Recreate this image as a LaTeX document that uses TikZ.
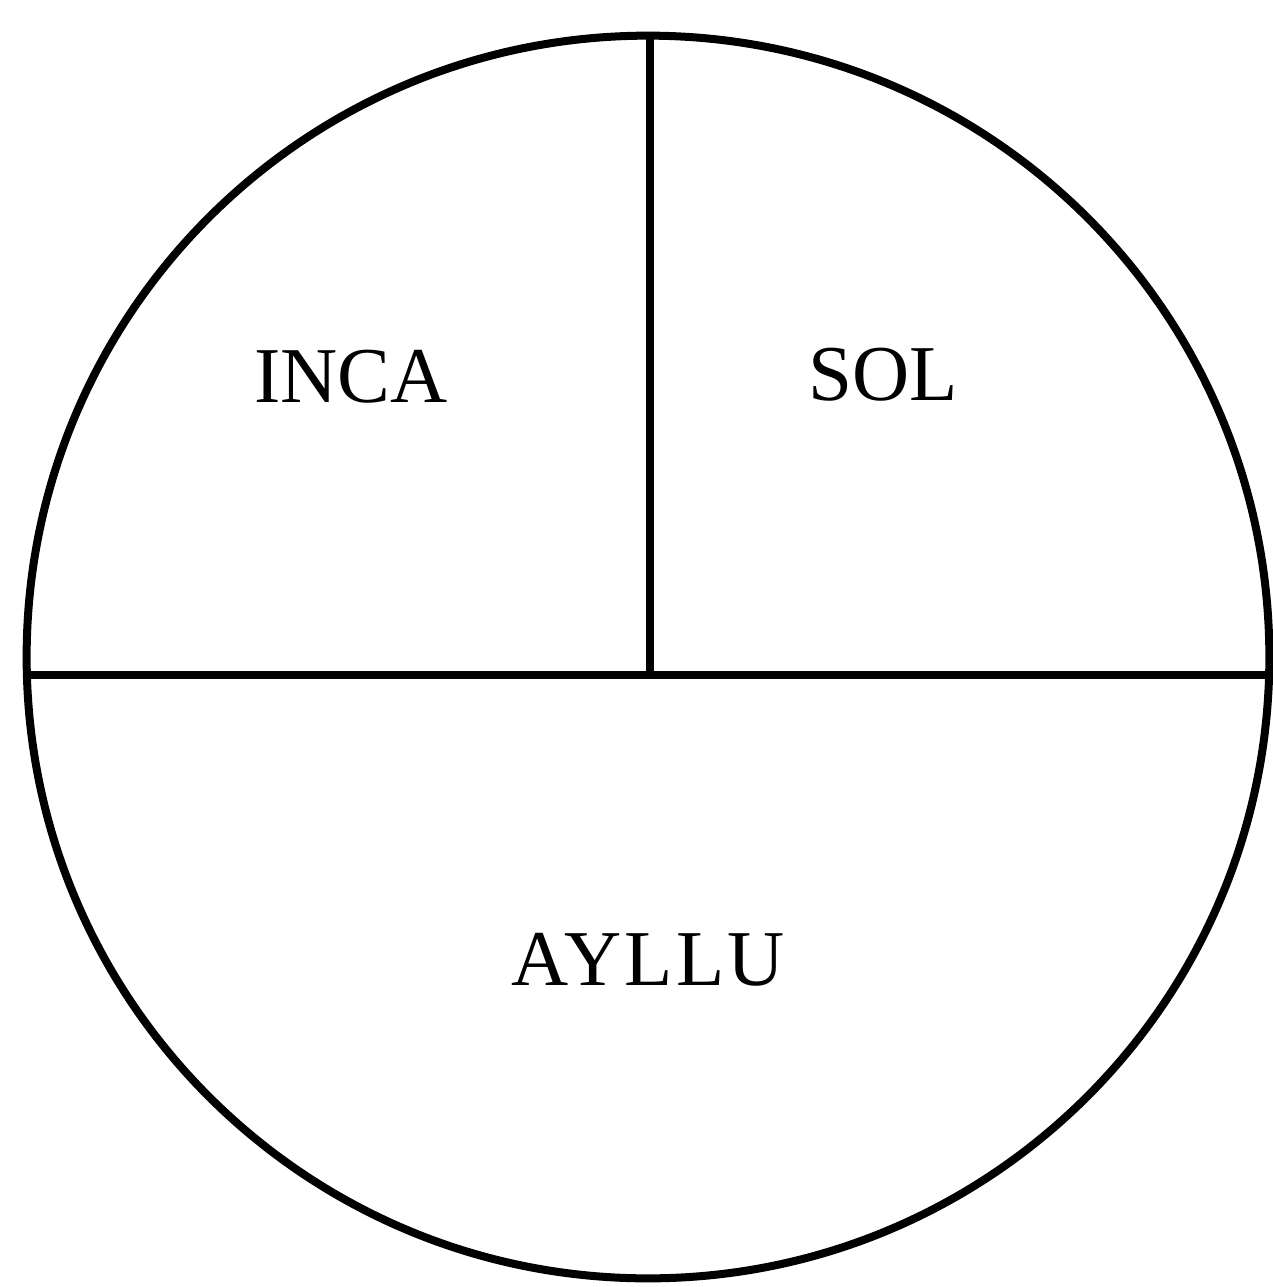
\documentclass[tikz,border=0pt]{standalone}
\usepackage{fontspec}
\setmainfont{Liberation Serif}
\newfontfamily\spacedfont[LetterSpace=4]{Liberation Serif}
\begin{document}
\begin{tikzpicture}[x=0.01cm,y=-0.01cm,
  rule/.style={line width=0.08cm, black},
  label/.style={anchor=base, inner sep=0pt, font=\fontsize{22.5pt}{27pt}\selectfont}]
\useasboundingbox (0,0) rectangle (1273,1287);
\coordinate (c) at (648,657);
\draw[rule] (c) circle [radius=6.21cm];
\coordinate (hl) at (27.3,675);
\coordinate (hr) at (1268.7,675);
\coordinate (vt) at (650,36.3);
\coordinate (vb) at (650,675);
\draw[rule] (hl) -- (hr);
\draw[rule] (vt) -- (vb);
\node[label] (inca) at (351,402) {INCA};
\node[label] (sol) at (883,400) {SOL};
\node[label, font=\fontsize{22.5pt}{27pt}\spacedfont] (ayllu) at (648,985) {AYLLU};
\end{tikzpicture}
\end{document}
